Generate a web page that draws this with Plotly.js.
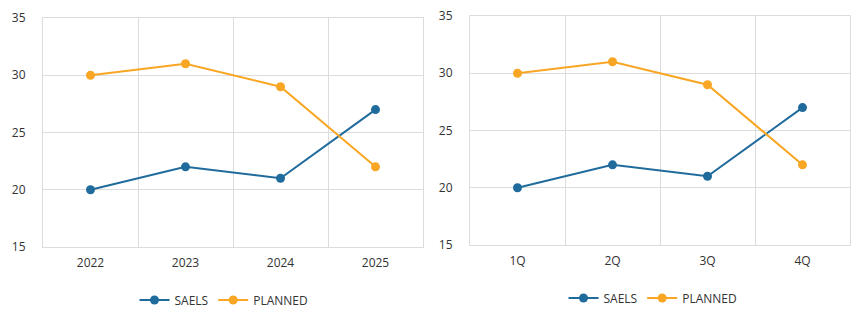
<!DOCTYPE html>
<html>
<head>
<meta charset="utf-8">
<script src="https://cdn.plot.ly/plotly-3.0.1.min.js"></script>
<style>html,body{margin:0;padding:0;background:#fff;}#chart{width:868px;height:323px;}</style>
</head>
<body>
<div id="chart"></div>
<script>
const yearCategories = ["2022", "2023", "2024", "2025"];
const quarterCategories = ["1Q", "2Q", "3Q", "4Q"];
const yearSales = [20, 22, 21, 27];
const yearPlanned = [30, 31, 29, 22];
const quarterSales = [20, 22, 21, 27];
const quarterPlanned = [30, 31, 29, 22];
const seriesNames = ["SAELS", "PLANNED"];
const yTicks = [15, 20, 25, 30, 35];

const blue = "#1f6b9c";
const orange = "#f8a623";
const W = 868, H = 323;

function line(x, y, name, color, xa, ya, legend) {
  return {
    type: "scatter", mode: "lines+markers", x: x, y: y, name: name,
    xaxis: xa, yaxis: ya, legend: legend,
    line: {color: color, width: 2},
    marker: {color: color, size: 9}
  };
}

const traces = [
  line(yearCategories, yearSales, seriesNames[0], blue, "x", "y", "legend"),
  line(yearCategories, yearPlanned, seriesNames[1], orange, "x", "y", "legend"),
  line(quarterCategories, quarterSales, seriesNames[0], blue, "x2", "y2", "legend2"),
  line(quarterCategories, quarterPlanned, seriesNames[1], orange, "x2", "y2", "legend2")
];

const font = {family: "Open Sans, Noto Sans, sans-serif", size: 12, color: "#333"};
const gridColor = "#dcdcdc";

function xAxis(domain, anchor) {
  return {
    domain: domain, anchor: anchor, type: "category",
    range: [-0.5, 3.5], tickson: "boundaries",
    showgrid: true, gridcolor: gridColor, gridwidth: 1,
    showline: true, linecolor: gridColor, linewidth: 1, mirror: true,
    ticks: "", ticklen: 0, ticklabelstandoff: 5, tickfont: font, zeroline: false,
    fixedrange: true
  };
}
function yAxis(domain, anchor) {
  return {
    domain: domain, anchor: anchor, range: [15, 35],
    tickvals: yTicks, ticktext: yTicks.map(String),
    showgrid: true, gridcolor: gridColor, gridwidth: 1,
    showline: true, linecolor: gridColor, linewidth: 1, mirror: true,
    ticks: "", ticklabelstandoff: 14, tickfont: font, zeroline: false,
    fixedrange: true
  };
}

const layout = {
  width: W, height: H,
  margin: {l: 0, r: 0, t: 0, b: 0},
  paper_bgcolor: "#fff", plot_bgcolor: "#fff",
  font: font,
  showlegend: true,
  xaxis: xAxis([43 / W, 423 / W], "y"),
  yaxis: yAxis([1 - 247 / H, 1 - 18 / H], "x"),
  xaxis2: xAxis([470 / W, 850 / W], "y2"),
  yaxis2: yAxis([1 - 245 / H, 1 - 16 / H], "x2"),
  legend: {
    orientation: "h", x: 224 / W, xanchor: "center", y: 1 - 300 / H, yanchor: "middle",
    font: font, itemwidth: 30, tracegroupgap: 0, bgcolor: "rgba(0,0,0,0)"
  },
  legend2: {
    orientation: "h", x: 653 / W, xanchor: "center", y: 1 - 298 / H, yanchor: "middle",
    font: font, itemwidth: 30, tracegroupgap: 0, bgcolor: "rgba(0,0,0,0)"
  },
  hovermode: false
};

Plotly.newPlot("chart", traces, layout, {displayModeBar: false, staticPlot: true});
</script>
</body>
</html>
